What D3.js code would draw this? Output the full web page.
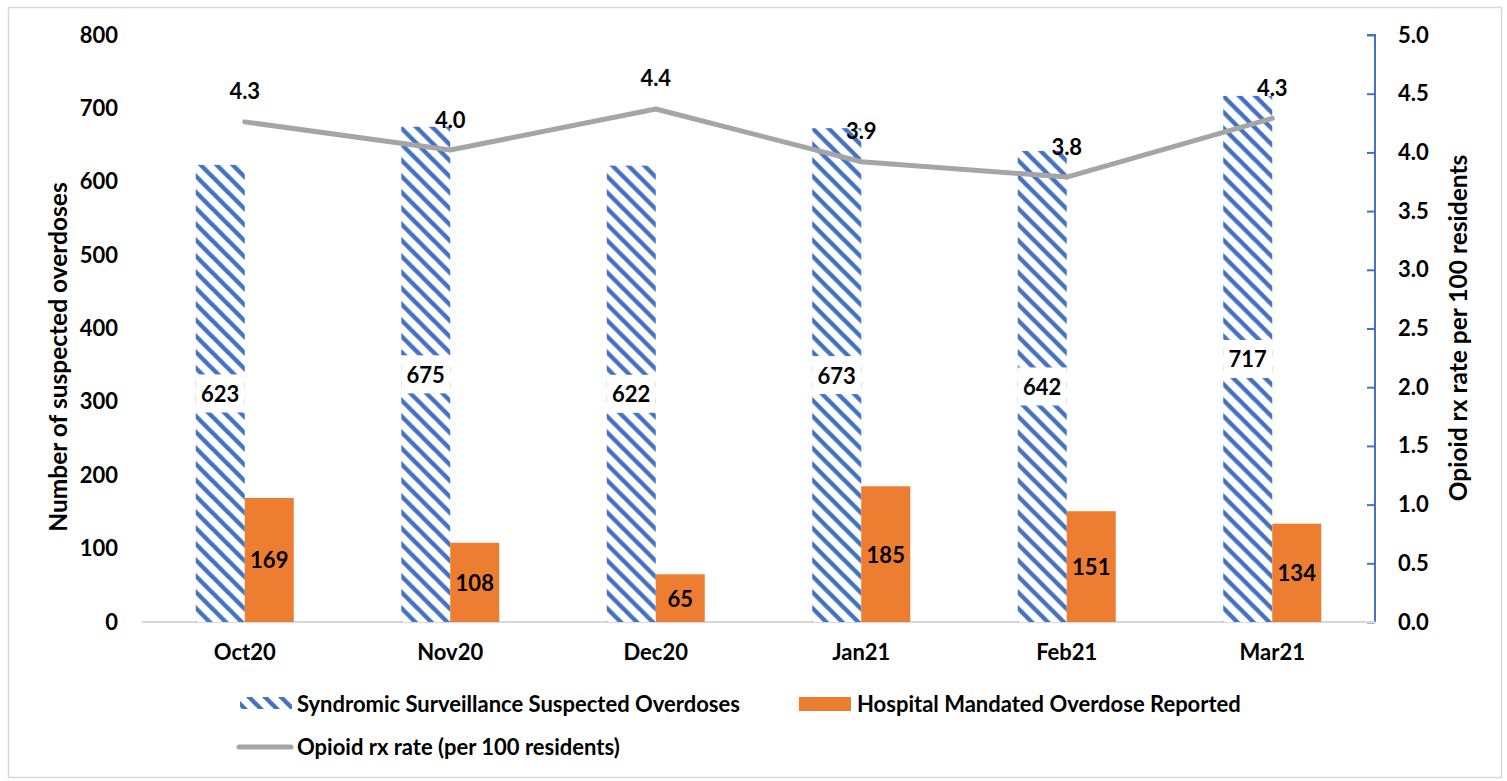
<!DOCTYPE html>
<html>
<head>
<meta charset="utf-8">
<script src="https://cdn.jsdelivr.net/npm/d3@7"></script>
<style>
  html, body { margin: 0; padding: 0; background: #fff; }
  svg { display: block; }
  text { font-family: Lato, "Open Sans", sans-serif; font-weight: bold; fill: #000; }
</style>
</head>
<body>
<svg id="chart" width="1507" height="781"></svg>
<script>
// Monthly overdose counts and opioid prescribing rate
const categories = ["Oct20", "Nov20", "Dec20", "Jan21", "Feb21", "Mar21"];
const syndromic = [623, 675, 622, 673, 642, 717];
const hospital = [169, 108, 65, 185, 151, 134];
const rxRate = [4.26, 4.02, 4.37, 3.92, 3.79, 4.29];
const leftTicks = [0, 100, 200, 300, 400, 500, 600, 700, 800];
const rightTicks = [0, 0.5, 1, 1.5, 2, 2.5, 3, 3.5, 4, 4.5, 5];
const seriesNames = [
  "Syndromic Surveillance Suspected Overdoses",
  "Hospital Mandated Overdose Reported",
  "Opioid rx rate (per 100 residents)"
];

const BLUE = "#4472C4", ORANGE = "#ED7D31", GRAY = "#A5A5A5";
const FS = "22px", TITLE_FS = "24.5px";
const svg = d3.select("#chart");
const plot = { left: 142, right: 1375, top: 35, bottom: 622 };

// frame
svg.append("rect")
  .attr("x", 8.5).attr("y", 7.5).attr("width", 1493).attr("height", 770)
  .attr("fill", "#fff").attr("stroke", "#d9d9d9").attr("stroke-width", 1.5);

// diagonal hatch fill
const defs = svg.append("defs");
const pat = defs.append("pattern")
  .attr("id", "hatch").attr("patternUnits", "userSpaceOnUse")
  .attr("width", 16).attr("height", 16);
pat.append("rect").attr("width", 16).attr("height", 16).attr("fill", "#fff");
pat.append("path")
  .attr("d", "M-4,-4 L20,20 M-4,12 L4,20 M12,-4 L20,4")
  .attr("stroke", BLUE).attr("stroke-width", 4.4);

const x = d3.scaleBand().domain(categories)
  .range([plot.left, plot.right]).paddingInner(0.523).paddingOuter(0.2615);
const x1 = d3.scaleBand().domain(["s", "h"]).range([0, x.bandwidth()]);
const yL = d3.scaleLinear().domain([0, 800]).range([plot.bottom, plot.top]);
const yR = d3.scaleLinear().domain([0, 5]).range([plot.bottom, plot.top]);

// left axis (labels only)
const gL = svg.append("g").attr("transform", `translate(${plot.left},0)`)
  .call(d3.axisLeft(yL).tickValues(leftTicks).tickSize(0).tickPadding(24).tickFormat(d3.format("d")));
gL.select(".domain").remove();
gL.selectAll("text").style("font-size", FS).style("font-family", "Lato").style("font-weight", "bold");

// right axis
const gR = svg.append("g").attr("transform", `translate(${plot.right},0)`)
  .call(d3.axisRight(yR).tickValues(rightTicks).tickSize(-8).tickPadding(23).tickFormat(d3.format(".1f")));
gR.select(".domain").attr("stroke", BLUE).attr("stroke-width", 2).attr("d", `M-8,${plot.top}H0V${plot.bottom}`);
gR.selectAll(".tick line").attr("stroke", BLUE).attr("stroke-width", 2);
gR.selectAll("text").style("font-size", FS).style("font-family", "Lato").style("font-weight", "bold");

// category axis
svg.append("line")
  .attr("x1", plot.left).attr("x2", plot.right)
  .attr("y1", plot.bottom).attr("y2", plot.bottom)
  .attr("stroke", "#d9d9d9").attr("stroke-width", 2);
svg.append("g").selectAll("text").data(categories).join("text")
  .attr("x", d => x(d) + x.bandwidth() / 2).attr("y", 651)
  .attr("text-anchor", "middle").attr("dominant-baseline", "central")
  .style("font-size", FS).text(d => d);

// axis titles
svg.append("text")
  .attr("transform", "translate(57,357) rotate(-90)")
  .attr("text-anchor", "middle").attr("dominant-baseline", "central")
  .style("font-size", TITLE_FS).text("Number of suspected overdoses");
svg.append("text")
  .attr("transform", "translate(1457,328) rotate(-90)")
  .attr("text-anchor", "middle").attr("dominant-baseline", "central")
  .style("font-size", TITLE_FS).text("Opioid rx rate per 100 residents");

// bars
const groups = svg.append("g").selectAll("g").data(categories).join("g")
  .attr("transform", d => `translate(${x(d)},0)`);
groups.append("rect")
  .attr("x", x1("s")).attr("width", x1.bandwidth())
  .attr("y", (d, i) => yL(syndromic[i]))
  .attr("height", (d, i) => yL(0) - yL(syndromic[i]))
  .attr("fill", "url(#hatch)");
groups.append("rect")
  .attr("x", x1("h")).attr("width", x1.bandwidth())
  .attr("y", (d, i) => yL(hospital[i]))
  .attr("height", (d, i) => yL(0) - yL(hospital[i]))
  .attr("fill", ORANGE);

// bar value labels
groups.append("rect")
  .attr("x", x1("s")).attr("width", x1.bandwidth())
  .attr("y", (d, i) => (yL(syndromic[i]) + yL(0)) / 2 - 19)
  .attr("height", 38).attr("fill", "#fff");
groups.append("text")
  .attr("x", x1("s") + x1.bandwidth() / 2)
  .attr("y", (d, i) => (yL(syndromic[i]) + yL(0)) / 2)
  .attr("text-anchor", "middle").attr("dominant-baseline", "central")
  .style("font-size", FS).text((d, i) => syndromic[i]);
groups.append("text")
  .attr("x", x1("h") + x1.bandwidth() / 2)
  .attr("y", (d, i) => (yL(hospital[i]) + yL(0)) / 2)
  .attr("text-anchor", "middle").attr("dominant-baseline", "central")
  .style("font-size", FS).text((d, i) => hospital[i]);

// rate line
const cx = (d) => x(d) + x.bandwidth() / 2;
const line = d3.line().x((d, i) => cx(categories[i])).y(d => yR(d));
svg.append("path").datum(rxRate)
  .attr("d", line).attr("fill", "none")
  .attr("stroke", GRAY).attr("stroke-width", 5)
  .attr("stroke-linecap", "round").attr("stroke-linejoin", "round");
svg.append("g").selectAll("text").data(rxRate).join("text")
  .attr("x", (d, i) => cx(categories[i]))
  .attr("y", d => yR(d) - 31)
  .attr("text-anchor", "middle").attr("dominant-baseline", "central")
  .style("font-size", FS).text(d => d3.format(".1f")(d));

// legend
const lg = svg.append("g");
lg.append("rect").attr("x", 240).attr("y", 697).attr("width", 52).attr("height", 12).attr("fill", "url(#hatch)");
lg.append("text").attr("x", 297).attr("y", 703).attr("dominant-baseline", "central")
  .style("font-size", FS).text(seriesNames[0]);
lg.append("rect").attr("x", 799).attr("y", 697).attr("width", 52).attr("height", 14).attr("fill", ORANGE);
lg.append("text").attr("x", 857).attr("y", 703).attr("dominant-baseline", "central")
  .style("font-size", FS).text(seriesNames[1]);
lg.append("line").attr("x1", 239).attr("x2", 291).attr("y1", 747).attr("y2", 747)
  .attr("stroke", GRAY).attr("stroke-width", 5).attr("stroke-linecap", "round");
lg.append("text").attr("x", 297).attr("y", 746).attr("dominant-baseline", "central")
  .style("font-size", FS).text(seriesNames[2]);
</script>
</body>
</html>
